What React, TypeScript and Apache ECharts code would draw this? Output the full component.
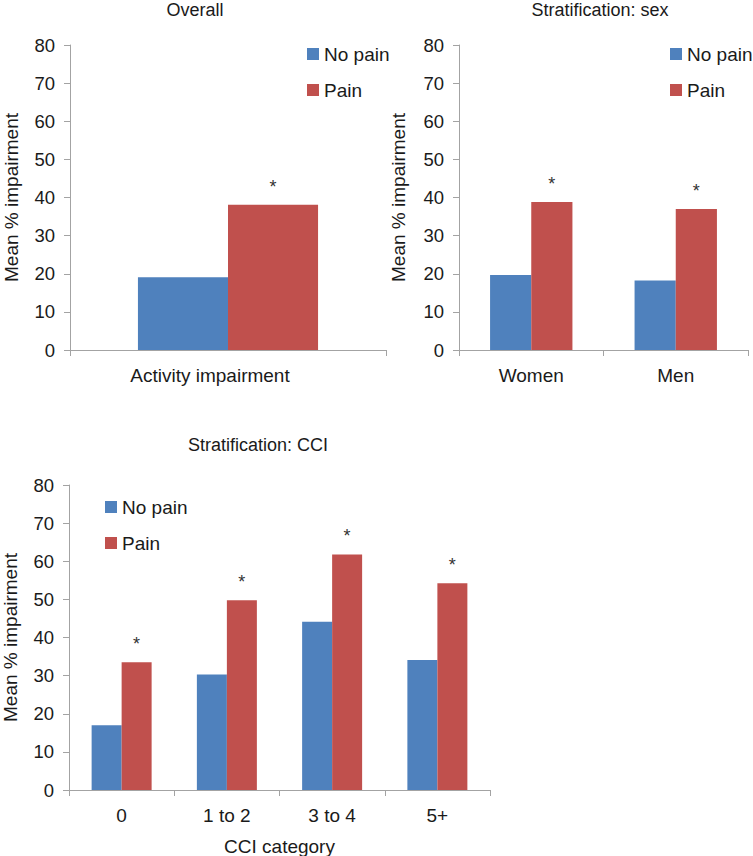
import React, { useEffect, useRef } from "react";
import * as echarts from "echarts";

const overallCategories = ["Activity impairment"];
const overallNoPain = [19.1];
const overallPain = [38.1];

const sexCategories = ["Women", "Men"];
const sexNoPain = [19.7, 18.2];
const sexPain = [38.8, 37.0];

const cciCategories = ["0", "1 to 2", "3 to 4", "5+"];
const cciNoPain = [17.0, 30.3, 44.1, 34.1];
const cciPain = [33.5, 49.8, 61.8, 54.2];

const yTicks = [0, 10, 20, 30, 40, 50, 60, 70, 80];
const seriesNames = ["No pain", "Pain"];
const titles = ["Overall", "Stratification: sex", "Stratification: CCI"];

const FONT = "Liberation Sans, Arial, sans-serif";
const TEXT = "#1a1a1a";
const AXIS = "#a3a3a3";
const BLUE = "#4F81BD";
const RED = "#C0504D";

export default function App() {
  const ref = useRef<HTMLDivElement>(null);
  useEffect(() => {
    document.body.style.margin = "0";
    const chart = echarts.init(ref.current!, null, { renderer: "svg" });

    const grids = [
      { left: 70, top: 45, width: 316, height: 305 },
      { left: 459, top: 45, width: 289, height: 305 },
      { left: 69, top: 485, width: 421, height: 305 },
    ].map((g) => ({ ...g, containLabel: false, outerBoundsMode: "none" }));
    const cats = [overallCategories, sexCategories, cciCategories];

    const xAxis = cats.map((c, i) => ({
      type: "category",
      gridIndex: i,
      data: c,
      axisLine: { lineStyle: { color: AXIS, width: 1 } },
      axisTick: { show: true, length: 6, lineStyle: { color: AXIS } },
      axisLabel: {
        color: TEXT,
        fontFamily: FONT,
        fontSize: 19,
        margin: 16,
        padding: i === 0 ? [0, 36, 0, 0] : 0,
      },
      name: i === 2 ? "CCI category" : "",
      nameLocation: "middle",
      nameGap: 47,
      nameTextStyle: { color: TEXT, fontFamily: FONT, fontSize: 19 },
    }));

    const yAxis = cats.map((_, i) => ({
      type: "value",
      gridIndex: i,
      min: yTicks[0],
      max: yTicks[yTicks.length - 1],
      interval: yTicks[1] - yTicks[0],
      splitLine: { show: false },
      axisLine: { show: true, lineStyle: { color: AXIS, width: 1 } },
      axisTick: { show: true, length: 6, lineStyle: { color: AXIS } },
      axisLabel: { color: TEXT, fontFamily: FONT, fontSize: 18.5, margin: 15 },
      name: "Mean % impairment",
      nameLocation: "middle",
      nameGap: i === 1 ? 51 : 49,
      nameTextStyle: { color: TEXT, fontFamily: FONT, fontSize: 19 },
    }));

    const noPainData = [overallNoPain, sexNoPain, cciNoPain];
    const painData = [overallPain, sexPain, cciPain];
    const series: any[] = [];
    for (let i = 0; i < 3; i++) {
      series.push({
        type: "bar",
        name: seriesNames[0],
        xAxisIndex: i,
        yAxisIndex: i,
        data: noPainData[i],
        itemStyle: { color: BLUE },
        barGap: "0%",
        barCategoryGap: "43%",
      });
      series.push({
        type: "bar",
        name: seriesNames[1],
        xAxisIndex: i,
        yAxisIndex: i,
        data: painData[i],
        itemStyle: { color: RED },
        barGap: "0%",
        barCategoryGap: "43%",
        label: {
          show: true,
          position: "top",
          distance: 9,
          formatter: "*",
          color: "#333",
          fontFamily: FONT,
          fontSize: 18,
        },
      });
    }

    const legendPos = [
      { left: 307, top: 44 },
      { left: 670, top: 44 },
      { left: 105, top: 497 },
    ];
    const legend = legendPos.map((p) => ({
      ...p,
      orient: "vertical",
      data: seriesNames,
      icon: "rect",
      itemWidth: 12,
      itemHeight: 12,
      itemGap: 16,
      padding: 0,
      textStyle: { color: TEXT, fontFamily: FONT, fontSize: 19, lineHeight: 20 },
    }));

    const titlePos = [
      { left: 195, top: 1 },
      { left: 600, top: 1 },
      { left: 258, top: 436 },
    ];
    const title = titles.map((t, i) => ({
      text: t,
      left: titlePos[i].left,
      top: titlePos[i].top,
      textAlign: "center",
      padding: 0,
      textStyle: { color: TEXT, fontFamily: FONT, fontSize: 18, fontWeight: "normal" },
    }));

    chart.setOption({
      animation: false,
      backgroundColor: "#ffffff",
      title,
      legend,
      grid: grids,
      xAxis,
      yAxis,
      series,
    } as any);
    return () => chart.dispose();
  }, []);
  return <div ref={ref} style={{ width: 753, height: 856 }} />;
}
